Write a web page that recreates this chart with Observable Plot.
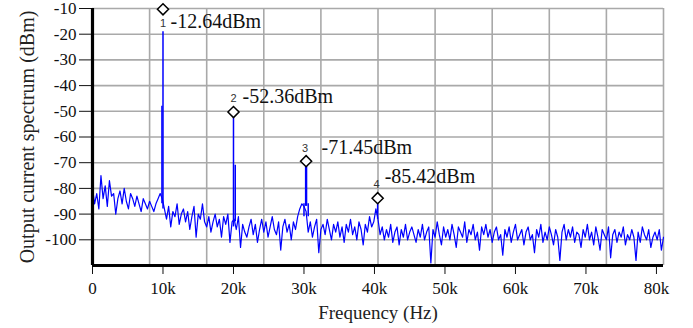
<!DOCTYPE html>
<html><head><meta charset="utf-8">
<script src="https://cdn.jsdelivr.net/npm/d3@7"></script>
<script src="https://cdn.jsdelivr.net/npm/@observablehq/plot@0.6"></script>
<style>
body{margin:0;background:#fff;}
svg{display:block}
</style>
</head><body><div id="chart"></div>
<script>
// Frequency sampling of the noise trace (Hz between samples)
const noiseStep = 300;
// Noise floor (dBm), one value every 300 Hz from 0 to 81 kHz
const noiseLevel = [
  -80, -86, -82, -88, -75, -84, -79, -87, -77, -83,
  -82, -90, -84, -81, -86, -80, -85, -88, -82, -84,
  -87, -83, -86, -89, -84, -86, -88, -85, -87, -89,
  -86, -84, -82,
  -84,
  -88, -92, -87, -95, -89, -91, -86, -94, -90, -88,
  -93, -89, -96, -91, -87, -99, -90, -92, -86, -93,
  -95, -91, -97, -93, -90, -95, -92, -99, -91, -94,
  -90, -101, -93,
  -92, -96, -91, -103, -94, -97, -99, -95, -92, -98,
  -94, -101, -96, -92, -97, -93, -99, -95, -91, -96,
  -98, -93, -104, -95, -92, -97, -94, -100, -93, -96,
  -91, -88, -86,
  -87, -89,
  -97, -93, -99, -95, -92, -105, -96, -94, -98, -92,
  -96, -100, -94, -97, -93, -99, -95, -101, -94, -97,
  -92, -98, -95, -100, -93, -96, -102, -94, -97, -91,
  -95, -93, -88,
  -92,
  -98, -95, -100, -96, -99, -94, -101, -97, -95, -102,
  -96, -99, -94, -100, -97, -95, -98, -101, -96, -99,
  -94, -100, -97, -95, -109, -96, -99, -93, -98, -102,
  -95, -99, -96, -100, -94, -98, -103, -95, -97, -99,
  -93, -101, -96, -98, -94, -100, -97, -104, -95, -98,
  -94, -99, -96, -101, -97, -95, -100, -98, -106, -96,
  -99, -95, -101, -97, -94, -100, -98, -96, -102, -97,
  -95, -100, -98, -105, -96, -99, -94, -101, -97, -100,
  -95, -98, -102, -96, -99, -108, -97, -94, -100, -96,
  -99, -95, -101, -97, -98, -103, -96, -99, -94, -100,
  -97, -102, -95, -99, -104, -96, -98, -100, -95, -107,
  -98, -96, -101, -97, -99, -95, -102, -98, -100, -96,
  -99, -108, -97, -101, -95, -98, -100, -96, -103, -99,
  -97, -100, -96, -104, -99
];
// Harmonic spikes (Hz, dBm)
const spikeFreq = [9850, 10000, 20000, 20250, 30000, 30300, 30600, 40450];
const spikeBase = [-86, -88, -95, -93, -91, -87, -91, -92];
const spikeTop  = [-48, -19, -52.5, -71, -86, -71.5, -86, -86];
// Markers
const markerFreq  = [10000, 20000, 30300, 40450];
const markerLevel = [-10.3, -50.3, -69.4, -83.8];
const markerId    = ["1", "2", "3", "4"];
const markerText  = ["-12.64dBm", "-52.36dBm", "-71.45dBm", "-85.42dBm"];
// Axes
const xTicks      = [0, 10000, 20000, 30000, 40000, 50000, 60000, 70000, 80000];
const xTickLabels = ["0", "10k", "20k", "30k", "40k", "50k", "60k", "70k", "80k"];
const yTicks      = [-10, -20, -30, -40, -50, -60, -70, -80, -90, -100];
const yTickLabels = ["-10", "-20", "-30", "-40", "-50", "-60", "-70", "-80", "-90", "-100"];
const xLabel = "Frequency (Hz)";
const yLabel = "Output current spectrum (dBm)";

const xDomain = [0, 81000];
const yDomain = [-110, -10];
const gridDivisions = 10;
const gridX = d3.range(gridDivisions + 1).map(i => xDomain[0] + i * (xDomain[1] - xDomain[0]) / gridDivisions);

const spikes = spikeFreq.map((f, i) => ({f, b: spikeBase[i], t: spikeTop[i]}));
const idx = markerFreq.map((_, i) => i);
const labelOffsets = [[7.5, 12], [9, -15], [15.5, -14], [7, -22]];
const idOffsets = [[0, 14], [0, -14], [-1, -13], [-1, -14]];

const marks = [
  Plot.ruleX(gridX, {stroke: "#a9a9a9", strokeWidth: 1.6}),
  Plot.ruleY(yTicks, {stroke: "#a9a9a9", strokeWidth: 1.6}),
  Plot.line(noiseLevel, {x: (d, i) => i * noiseStep, y: d => d, stroke: "#0000ff", strokeWidth: 1.2}),
  Plot.ruleX(spikes, {x: "f", y1: "b", y2: "t", stroke: "#0000ff", strokeWidth: d => d.f === 30300 ? 2.4 : 1.5}),
  Plot.ruleX([xDomain[0]], {stroke: "#000", strokeWidth: 3.2}),
  Plot.ruleY([yDomain[0]], {stroke: "#000", strokeWidth: 3.2}),
  Plot.dot(idx, {x: i => markerFreq[i], y: i => markerLevel[i], symbol: "diamond2", r: 5, stroke: "#000", strokeWidth: 1.5, fill: "#fff"}),
  Plot.text([xLabel], {frameAnchor: "bottom", textAnchor: "middle", lineAnchor: "middle", dy: 47, fontSize: 19, fill: "#222"}),
  Plot.text([yLabel], {frameAnchor: "left", textAnchor: "middle", lineAnchor: "middle", rotate: -90, dx: -65, fontSize: 20, fill: "#222"})
];
idx.forEach(i => {
  marks.push(Plot.text([i], {x: j => markerFreq[j], y: j => markerLevel[j], text: j => markerText[j],
    dx: labelOffsets[i][0], dy: labelOffsets[i][1], textAnchor: "start", fontSize: 20, fill: "#111"}));
  marks.push(Plot.text([i], {x: j => markerFreq[j], y: j => markerLevel[j], text: j => markerId[j],
    dx: idOffsets[i][0], dy: idOffsets[i][1], fontSize: 11, fontFamily: "Liberation Sans", fill: "#333", className: "ids"}));
});

const chart = Plot.plot({
  width: 693,
  height: 328,
  marginLeft: 92,
  marginRight: 30,
  marginTop: 8,
  marginBottom: 63,
  style: {fontFamily: "Liberation Serif", fontSize: "17px", color: "#111", background: "#fff"},
  x: {domain: xDomain, ticks: xTicks, tickFormat: d => xTickLabels[xTicks.indexOf(d)], tickSize: 9, tickPadding: 7, label: null},
  y: {domain: yDomain, ticks: yTicks, tickFormat: d => yTickLabels[yTicks.indexOf(d)], tickSize: 13, tickPadding: 3, label: null},
  marks
});
// force the serif face on every text except the small marker numbers
d3.select(chart).selectAll("text").each(function() {
  if (!this.closest(".ids")) this.style.fontFamily = "'Liberation Serif', serif";
  else this.style.fontFamily = "'Liberation Sans', sans-serif";
});
document.getElementById("chart").appendChild(chart);
</script>
</body></html>
